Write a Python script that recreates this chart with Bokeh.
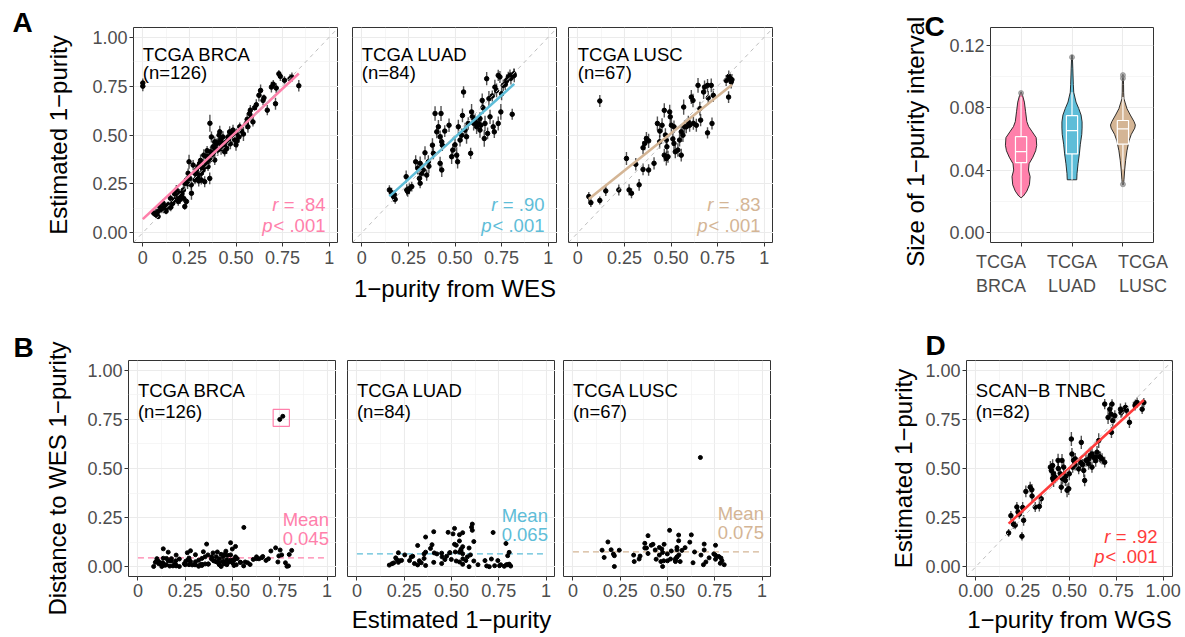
import numpy as np
from bokeh.plotting import figure
from bokeh.layouts import row, column
from bokeh.models import FixedTicker, Label, Range1d, Slope
from bokeh.embed import file_html
from bokeh.resources import INLINE

FONT = "Liberation Sans"

# ---------------- data ----------------
GROUPS = ["TCGA BRCA", "TCGA LUAD", "TCGA LUSC"]
N_LABELS = ["(n=126)", "(n=84)", "(n=67)"]
R_TEXT = ["= .84", "= .90", "= .83"]
MEAN_DIST = [0.045, 0.065, 0.075]
MEAN_TEXT = ["0.045", "0.065", "0.075"]

BRCA_WES = [0.000,0.000,0.730,0.738,0.690,0.716,0.790,0.800,0.837,0.712,
            0.632,0.609,0.645,0.668,0.623,0.573,0.582,0.564,0.591,0.555,
            0.577,0.520,0.516,0.493,0.475,0.466,0.457,0.448,0.439,0.430,
            0.416,0.409,0.395,0.386,0.377,0.360,0.377,0.363,0.350,0.359,
            0.341,0.332,0.323,0.314,0.327,0.305,0.296,0.296,0.314,0.332,
            0.359,0.288,0.279,0.270,0.248,0.243,0.252,0.234,0.225,0.261,
            0.218,0.207,0.198,0.189,0.180,0.218,0.225,0.234,0.171,0.148,
            0.136,0.145,0.127,0.118,0.109,0.100,0.091,0.082,0.070,0.059,
            0.082,0.484,0.502,0.439,0.421,0.402,0.350,0.386,0.413,0.368,
            0.150,0.160,0.125,0.200,0.240,0.260,0.280,0.300,0.310,0.340,
            0.345,0.370,0.390,0.400,0.420,0.430,0.450,0.460,0.470,0.480,
            0.500,0.505,0.530,0.540,0.560,0.600,0.650,0.700,0.760,0.070,
            0.110,0.190,0.210,0.170,0.290,0.320]
BRCA_EST = [0.766,0.750,0.813,0.800,0.745,0.740,0.788,0.796,0.752,0.660,
            0.728,0.655,0.677,0.627,0.703,0.610,0.593,0.542,0.567,0.559,
            0.627,0.542,0.490,0.474,0.508,0.516,0.490,0.465,0.440,0.490,
            0.474,0.499,0.457,0.465,0.440,0.560,0.406,0.414,0.389,0.372,
            0.355,0.338,0.321,0.304,0.397,0.355,0.338,0.287,0.270,0.261,
            0.278,0.321,0.304,0.346,0.363,0.304,0.278,0.270,0.253,0.202,
            0.219,0.194,0.202,0.185,0.219,0.177,0.134,0.160,0.168,0.177,
            0.143,0.134,0.126,0.134,0.151,0.117,0.134,0.109,0.092,0.100,
            0.083,0.525,0.508,0.414,0.448,0.423,0.338,0.372,0.516,0.490,
            0.130,0.150,0.110,0.170,0.250,0.245,0.270,0.265,0.370,0.390,
            0.420,0.400,0.430,0.460,0.430,0.455,0.430,0.470,0.455,0.500,
            0.450,0.470,0.520,0.505,0.580,0.640,0.690,0.760,0.780,0.100,
            0.125,0.160,0.200,0.200,0.300,0.330]
BRCA_CI = [0.046,0.052,0.040,0.048,0.055,0.050,0.045,0.047,0.058,0.062,
           0.060,0.055,0.049,0.052,0.063,0.058,0.050,0.061,0.048,0.056,
           0.054,0.045,0.060,0.052,0.049,0.057,0.064,0.051,0.046,0.059,
           0.053,0.062,0.048,0.055,0.050,0.088,0.047,0.052,0.058,0.044,
           0.051,0.056,0.049,0.043,0.060,0.054,0.048,0.052,0.046,0.057,
           0.061,0.050,0.045,0.053,0.072,0.048,0.055,0.041,0.049,0.066,
           0.047,0.038,0.044,0.036,0.050,0.042,0.034,0.039,0.045,0.037,
           0.033,0.040,0.031,0.035,0.042,0.028,0.036,0.030,0.026,0.032,
           0.024,0.056,0.050,0.047,0.054,0.059,0.045,0.052,0.063,0.057,
           0.039,0.042,0.030,0.046,0.052,0.049,0.044,0.058,0.060,0.053,
           0.047,0.055,0.051,0.048,0.062,0.050,0.054,0.066,0.057,0.052,
           0.061,0.068,0.059,0.071,0.064,0.029,0.035,0.043,0.040,0.047,
           0.051,0.045,0.055,0.049,0.052,0.048]

LUAD_WES = [0.148,0.170,0.179,0.175,0.241,0.246,0.238,0.268,0.289,0.313,
            0.309,0.320,0.330,0.348,0.339,0.379,0.384,0.393,0.402,0.411,
            0.420,0.425,0.432,0.420,0.429,0.468,0.482,0.488,0.509,0.518,
            0.527,0.536,0.546,0.554,0.562,0.584,0.589,0.593,0.607,0.616,
            0.625,0.634,0.639,0.646,0.657,0.670,0.675,0.682,0.688,0.705,
            0.711,0.714,0.723,0.732,0.741,0.746,0.750,0.759,0.777,0.786,
            0.795,0.807,0.818,0.816,0.732,0.661,0.634,0.571,0.514,0.429,
            0.357,0.313,0.160,0.255,0.300,0.360,0.445,0.500,0.600,0.650,
            0.700,0.770,0.800,0.540]
LUAD_EST = [0.219,0.185,0.171,0.194,0.219,0.211,0.287,0.236,0.363,0.355,
            0.278,0.304,0.321,0.295,0.409,0.448,0.406,0.610,0.516,0.542,
            0.491,0.610,0.448,0.355,0.321,0.550,0.389,0.423,0.397,0.542,
            0.474,0.499,0.720,0.525,0.491,0.406,0.618,0.593,0.576,0.542,
            0.559,0.525,0.550,0.677,0.482,0.788,0.508,0.686,0.593,0.542,
            0.516,0.745,0.728,0.805,0.797,0.618,0.711,0.754,0.779,0.796,
            0.805,0.606,0.805,0.813,0.559,0.559,0.584,0.559,0.363,0.465,
            0.363,0.253,0.205,0.225,0.330,0.340,0.520,0.450,0.560,0.640,
            0.700,0.760,0.790,0.600]
LUAD_CI = [0.048,0.052,0.045,0.050,0.058,0.054,0.062,0.049,0.066,0.070,
           0.056,0.060,0.064,0.058,0.068,0.072,0.061,0.075,0.066,0.070,
           0.063,0.078,0.059,0.067,0.073,0.069,0.074,0.062,0.080,0.071,
           0.065,0.068,0.060,0.076,0.072,0.058,0.082,0.070,0.066,0.074,
           0.069,0.077,0.064,0.071,0.085,0.068,0.060,0.079,0.073,0.066,
           0.063,0.075,0.070,0.058,0.062,0.081,0.067,0.059,0.064,0.055,
           0.061,0.057,0.069,0.054,0.072,0.078,0.066,0.063,0.070,0.074,
           0.068,0.052,0.050,0.057,0.065,0.071,0.060,0.067,0.073,0.062,
           0.056,0.059,0.064,0.070]

LUSC_WES = [0.059,0.070,0.118,0.118,0.150,0.220,0.275,0.288,0.329,0.261,
            0.311,0.350,0.350,0.359,0.368,0.380,0.409,0.427,0.439,0.452,
            0.464,0.464,0.475,0.478,0.484,0.493,0.496,0.502,0.516,0.516,
            0.523,0.555,0.555,0.564,0.568,0.573,0.582,0.593,0.609,0.618,
            0.636,0.645,0.655,0.659,0.675,0.680,0.696,0.696,0.716,0.720,
            0.727,0.796,0.809,0.818,0.823,0.827,0.537,0.475,0.546,0.600,
            0.470,0.510,0.440,0.620,0.700,0.810,0.380]
LUSC_EST = [0.185,0.154,0.165,0.674,0.214,0.219,0.219,0.202,0.245,0.380,
            0.350,0.324,0.435,0.457,0.482,0.321,0.355,0.559,0.465,0.550,
            0.626,0.397,0.474,0.440,0.389,0.618,0.593,0.550,0.542,0.457,
            0.414,0.516,0.397,0.499,0.643,0.542,0.542,0.567,0.694,0.677,
            0.550,0.754,0.635,0.576,0.720,0.745,0.754,0.511,0.754,0.559,
            0.703,0.779,0.694,0.788,0.771,0.783,0.423,0.380,0.474,0.550,
            0.500,0.480,0.520,0.560,0.690,0.800,0.470]
LUSC_CI = [0.048,0.044,0.040,0.062,0.052,0.056,0.058,0.050,0.060,0.066,
           0.064,0.060,0.068,0.070,0.066,0.059,0.063,0.072,0.067,0.071,
           0.074,0.065,0.069,0.068,0.062,0.073,0.070,0.066,0.064,0.071,
           0.067,0.069,0.065,0.070,0.078,0.068,0.066,0.064,0.072,0.069,
           0.067,0.075,0.070,0.063,0.071,0.068,0.066,0.058,0.070,0.062,
           0.067,0.056,0.060,0.054,0.066,0.058,0.069,0.072,0.065,0.067,
           0.070,0.068,0.064,0.066,0.069,0.060,0.073]

TNBC_WGS = [0.175,0.187,0.201,0.210,0.219,0.225,0.232,0.246,0.255,0.250,
            0.267,0.290,0.299,0.317,0.339,0.349,0.398,0.403,0.410,0.415,
            0.424,0.415,0.439,0.451,0.456,0.460,0.463,0.478,0.487,0.496,
            0.499,0.510,0.517,0.522,0.531,0.563,0.570,0.576,0.581,0.588,
            0.602,0.611,0.620,0.629,0.638,0.647,0.656,0.665,0.674,0.688,
            0.688,0.706,0.715,0.722,0.724,0.727,0.731,0.742,0.772,0.775,
            0.799,0.804,0.820,0.852,0.861,0.888,0.897,0.620,0.602,0.513,
            0.469,0.549,0.410,0.440,0.480,0.530,0.560,0.640,0.660,0.780,
            0.850,0.300]
TNBC_EST = [0.172,0.260,0.216,0.211,0.304,0.279,0.267,0.155,0.236,0.301,
            0.383,0.405,0.392,0.304,0.307,0.346,0.507,0.490,0.515,0.439,
            0.456,0.473,0.541,0.473,0.405,0.541,0.448,0.439,0.389,0.397,
            0.473,0.650,0.507,0.541,0.549,0.633,0.520,0.490,0.439,0.541,
            0.549,0.566,0.574,0.557,0.557,0.583,0.642,0.557,0.549,0.532,
            0.828,0.760,0.802,0.777,0.684,0.828,0.743,0.769,0.802,0.785,
            0.811,0.797,0.735,0.828,0.836,0.802,0.836,0.507,0.524,0.574,
            0.507,0.498,0.450,0.500,0.460,0.520,0.530,0.540,0.560,0.790,
            0.820,0.360]
TNBC_CI = [0.040,0.048,0.045,0.042,0.052,0.050,0.047,0.044,0.055,0.058,
           0.060,0.054,0.057,0.050,0.053,0.056,0.062,0.058,0.064,0.066,
           0.060,0.063,0.068,0.061,0.059,0.065,0.060,0.057,0.070,0.063,
           0.066,0.072,0.058,0.064,0.061,0.067,0.056,0.069,0.060,0.063,
           0.058,0.062,0.066,0.059,0.061,0.064,0.075,0.060,0.057,0.055,
           0.052,0.068,0.060,0.064,0.058,0.050,0.062,0.056,0.059,0.053,
           0.050,0.054,0.057,0.048,0.052,0.049,0.046,0.058,0.061,0.062,
           0.060,0.055,0.063,0.057,0.059,0.061,0.058,0.062,0.054,0.051,
           0.050,0.064]

# violin profiles (interval size, half width in category units)
BRCA_VY = [0.0224,0.0235,0.0266,0.0307,0.0359,0.0401,0.0442,0.0484,0.0525,0.0560,
           0.0609,0.0650,0.0680,0.0712,0.0775,0.0837,0.0880,0.0903]
BRCA_VW = [0.000,0.046,0.113,0.164,0.178,0.145,0.158,0.232,0.287,0.307,
           0.297,0.212,0.149,0.113,0.089,0.065,0.030,0.000]
LUAD_VY = [0.0339,0.0380,0.0442,0.0505,0.0567,0.0630,0.0670,0.0710,0.0754,0.0795,
           0.0837,0.0900,0.0950,0.1050,0.1138]
LUAD_VW = [0.093,0.099,0.119,0.145,0.164,0.192,0.198,0.198,0.178,0.133,
           0.079,0.034,0.026,0.016,0.006]
LUSC_VY = [0.0307,0.0339,0.0401,0.0463,0.0525,0.0588,0.0630,0.0670,0.0690,0.0712,
           0.0754,0.0795,0.0837,0.0858,0.0900,0.0950,0.1013]
LUSC_VW = [0.010,0.020,0.034,0.053,0.079,0.119,0.164,0.232,0.244,0.218,
           0.145,0.079,0.040,0.020,0.014,0.012,0.006]
BOX_Q1 = [0.0449, 0.0505, 0.0567]
BOX_MED = [0.0519, 0.0654, 0.0665]
BOX_Q3 = [0.0615, 0.0750, 0.0719]
WHISK_LO = [0.0230, 0.0339, 0.0405]
WHISK_HI = [0.0870, 0.0900, 0.0870]
OUT_GROUP = [1, 2, 3, 3, 3]
OUT_Y = [0.0895, 0.1125, 0.1010, 0.0990, 0.0310]
C_TICKS = [1, 2, 3]
NB = "\u00a0" * 8
C_LABELS = ["TCGA" + NB + "\nBRCA" + NB, "TCGA\nLUAD", NB + "TCGA\n" + NB + "LUSC"]

UNIT_T = [0, 0.25, 0.5, 0.75, 1]
UNIT_MINOR = [0.125, 0.375, 0.625, 0.875]
X_LAB = ["0", "0.25", "0.50", "0.75", "1"]
Y_LAB = ["0.00", "0.25", "0.50", "0.75", "1.00"]
C_YT = [0, 0.04, 0.08, 0.12]
C_YL = ["0.00", "0.04", "0.08", "0.12"]
C_YMINOR = [0.02, 0.06, 0.10]

WES = [BRCA_WES, LUAD_WES, LUSC_WES]
EST = [BRCA_EST, LUAD_EST, LUSC_EST]
CI = [BRCA_CI, LUAD_CI, LUSC_CI]
VY = [BRCA_VY, LUAD_VY, LUSC_VY]
VW = [BRCA_VW, LUAD_VW, LUSC_VW]

# ---------------- style ----------------
COLORS = ["#FF80AB", "#5EBDD8", "#D4B595"]
RED = "#FF3B3B"
TICK_COL = "#4D4D4D"
TICK_FS = "18px"
TITLE_FS = "24px"
TEXT_FS = "18.5px"

# layout (page pixels)
R1, R2 = (0, 305), (305, 637)
A_LEFTS, A_W, A_TOP, A_H = [133, 352, 568], 205, 27, 215
A_SPANS = [(0, 338), (338, 557), (557, 773)]
C_LEFT, C_W, C_TOP, C_H, C_SPAN = 990, 163, 23, 222, (773, 1185)
B_LEFTS, B_W, B_TOP, B_H = [128, 347, 563], 208, 358, 218
B_SPANS = [(0, 336), (336, 555), (555, 771)]
D_LEFT, D_W, D_TOP, D_H, D_SPAN = 966, 206, 360, 217, (771, 1185)
R = (-0.05, 1.05)


def make_fig(span, vspan, left, top, w, h, xr, yr, yaxis=True):
    p = figure(width=span[1] - span[0], height=vspan[1] - vspan[0],
               min_border_left=left - span[0], min_border_right=span[1] - (left + w),
               min_border_top=top - vspan[0], min_border_bottom=vspan[1] - (top + h),
               x_range=Range1d(*xr), y_range=Range1d(*yr),
               y_axis_location="left" if yaxis else None,
               output_backend="svg", toolbar_location=None)
    p._frame = (left, top)
    return p


def style(p, xt, xl, xminor, yt, yl, yminor, xstand=3, ystand=2):
    p.outline_line_color = "#333333"
    p.outline_line_width = 1
    p.background_fill_color = "white"
    p.border_fill_color = "white"
    p.xgrid.ticker = FixedTicker(ticks=xt, minor_ticks=xminor)
    p.ygrid.ticker = FixedTicker(ticks=yt, minor_ticks=yminor)
    for g in (p.xgrid, p.ygrid):
        g.grid_line_color = "#EBEBEB"
        g.grid_line_width = 1.1
        g.minor_grid_line_color = "#F2F2F2"
        g.minor_grid_line_width = 0.7
    for ax in p.xaxis:
        ax.ticker = FixedTicker(ticks=xt)
        ax.major_label_overrides = dict(zip(xt, xl))
        ax.major_label_standoff = xstand
    for ax in p.yaxis:
        ax.ticker = FixedTicker(ticks=yt)
        ax.major_label_overrides = dict(zip(yt, yl))
        ax.major_label_standoff = ystand
    for ax in p.axis:
        ax.axis_line_color = None
        ax.major_tick_line_color = "#333333"
        ax.major_tick_in = 0
        ax.major_tick_out = 4
        ax.minor_tick_line_color = None
        ax.major_label_text_font = FONT
        ax.major_label_text_font_size = TICK_FS
        ax.major_label_text_color = TICK_COL
        ax.axis_label_text_font = FONT
        ax.axis_label_text_font_size = TITLE_FS
        ax.axis_label_text_font_style = "normal"
        ax.axis_label_text_color = "black"


def text(p, x, y, s, color="black", align="left", italic=False, xoff=0, size=TEXT_FS):
    p.add_layout(Label(x=x, y=y, text=s, text_font=FONT, text_font_size=size,
                       text_color=color, text_align=align, text_baseline="alphabetic",
                       text_font_style="italic" if italic else "normal", x_offset=xoff))


def letter(p, s, px, py):
    # panel letter drawn as the figure title, shifted into the left margin
    left, top = p._frame
    p.title.text = s
    p.title.align = "left"
    p.title.vertical_align = "bottom"
    p.title.offset = px - left
    p.title.standoff = 2 * (top - py - 6)
    p.title.text_font = FONT
    p.title.text_font_size = "28px"
    p.title.text_font_style = "bold"
    p.title.text_color = "black"


def scatter_fit(p, x, y, ci, color, rtxt, rx, ry, py):
    p.add_layout(Slope(gradient=1, y_intercept=0, line_color="#BEBEBE",
                       line_dash="4 4", line_width=1))
    p.segment(x, y - ci / 2, x, y + ci / 2, line_color="#1A1A1A", line_width=1.4, line_alpha=0.75)
    p.scatter(x, y, size=4.5, color="black")
    k, b = np.polyfit(x, y, 1)
    xs = np.array([x.min(), x.max()])
    p.line(xs, k * xs + b, line_color=color, line_width=2.6)
    text(p, rx, ry, rtxt, color=color, align="right")
    text(p, rx, ry, "r", color=color, align="right", italic=True, xoff=-47)
    text(p, rx, py, "< .001", color=color, align="right")
    text(p, rx, py, "p", color=color, align="right", italic=True, xoff=-53)


# ---------------- row 1: panel A + C ----------------
row1 = []
for i in range(3):
    p = make_fig(A_SPANS[i], R1, A_LEFTS[i], A_TOP, A_W, A_H, R, R, yaxis=(i == 0))
    style(p, UNIT_T, X_LAB, UNIT_MINOR, UNIT_T, Y_LAB, UNIT_MINOR, xstand=4)
    x, y, ci = np.array(WES[i]), np.array(EST[i]), np.array(CI[i])
    scatter_fit(p, x, y, ci, COLORS[i], R_TEXT[i], 0.98, 0.143, 0.036)
    text(p, 0.0, 0.912, GROUPS[i])
    text(p, 0.0, 0.822, N_LABELS[i])
    if i == 0:
        p.yaxis.axis_label = "Estimated 1\u2212purity"
        p.yaxis.axis_label_standoff = 17
        letter(p, "A", 12, 31)
    if i == 1:
        p.xaxis.axis_label = "1\u2212purity from WES"
        p.xaxis.axis_label_standoff = 8
    row1.append(p)

pc = make_fig(C_SPAN, R1, C_LEFT, C_TOP, C_W, C_H, (0.4, 3.6), (-0.0063, 0.1315))
style(pc, C_TICKS, C_LABELS, [], C_YT, C_YL, C_YMINOR, xstand=5)
pc.xgrid.minor_grid_line_color = None
for i in range(3):
    c = C_TICKS[i]
    vy, vw = np.array(VY[i]), np.array(VW[i])
    pc.patch(np.concatenate([c - vw, (c + vw)[::-1]]), np.concatenate([vy, vy[::-1]]),
             fill_color=COLORS[i], line_color="#1A1A1A", line_width=0.9)
    pc.segment([c, c], [WHISK_LO[i], BOX_Q3[i]], [c, c], [BOX_Q1[i], WHISK_HI[i]],
               line_color="white", line_width=1.2)
    pc.quad(left=[c - 0.11], right=[c + 0.11], bottom=[BOX_Q1[i]], top=[BOX_Q3[i]],
            fill_color=COLORS[i], line_color="white", line_width=1.2)
    pc.segment([c - 0.11], [BOX_MED[i]], [c + 0.11], [BOX_MED[i]], line_color="white", line_width=1.2)
pc.scatter(OUT_GROUP, OUT_Y, size=5, color="#808080", alpha=0.6)
pc.yaxis.axis_label = "Size of 1\u2212purity interval" + "\u00a0" * 2
pc.yaxis.axis_label_standoff = 17
letter(pc, "C", 924, 31)
row1.append(pc)

# ---------------- row 2: panel B + D ----------------
row2 = []
for i in range(3):
    p = make_fig(B_SPANS[i], R2, B_LEFTS[i], B_TOP, B_W, B_H, R, R, yaxis=(i == 0))
    style(p, UNIT_T, X_LAB, UNIT_MINOR, UNIT_T, Y_LAB, UNIT_MINOR, xstand=3)
    x, y = np.array(WES[i]), np.array(EST[i])
    dist = np.abs(y - x)
    p.line([UNIT_T[0], UNIT_T[-1]], [MEAN_DIST[i]] * 2, line_color=COLORS[i],
           line_dash="6 4", line_width=1.3)
    p.scatter(y, dist, size=4, color="black")
    if i == 0:
        flag = x == 0
        pad = 0.035
        p.quad(left=[y[flag].min() - pad], right=[y[flag].max() + pad],
               bottom=[dist[flag].min() - pad], top=[dist[flag].max() + pad],
               fill_color=None, line_color=COLORS[0], line_width=1.2)
    text(p, 0.0, 0.895, GROUPS[i])
    text(p, 0.0, 0.789, N_LABELS[i])
    text(p, 1.01, MEAN_DIST[i] + 0.097, MEAN_TEXT[i], color=COLORS[i], align="right")
    text(p, 1.01, MEAN_DIST[i] + 0.197, "Mean", color=COLORS[i], align="right")
    if i == 0:
        p.yaxis.axis_label = "Distance to WES 1\u2212purity" + "\u00a0" * 3
        p.yaxis.axis_label_standoff = 13
        letter(p, "B", 13, 354)
    if i == 1:
        p.xaxis.axis_label = "Estimated 1\u2212purity"
        p.xaxis.axis_label_standoff = 6
    row2.append(p)

pd_ = make_fig(D_SPAN, R2, D_LEFT, D_TOP, D_W, D_H, R, R)
style(pd_, UNIT_T, Y_LAB, UNIT_MINOR, UNIT_T, Y_LAB, UNIT_MINOR, xstand=3)
scatter_fit(pd_, np.array(TNBC_WGS), np.array(TNBC_EST), np.array(TNBC_CI), RED, "= .92", 0.97, 0.152, 0.05)
text(pd_, 0.0, 0.895, "SCAN\u2212B TNBC")
text(pd_, 0.0, 0.789, "(n=82)")
pd_.yaxis.axis_label = "Estimated 1\u2212purity"
pd_.yaxis.axis_label_standoff = 5
pd_.xaxis.axis_label = "1\u2212purity from WGS"
pd_.xaxis.axis_label_standoff = 6
letter(pd_, "D", 925, 354)
row2.append(pd_)

layout = column(row(*row1, spacing=0), row(*row2, spacing=0), spacing=0)
open("out.html", "w").write(file_html(layout, INLINE))
